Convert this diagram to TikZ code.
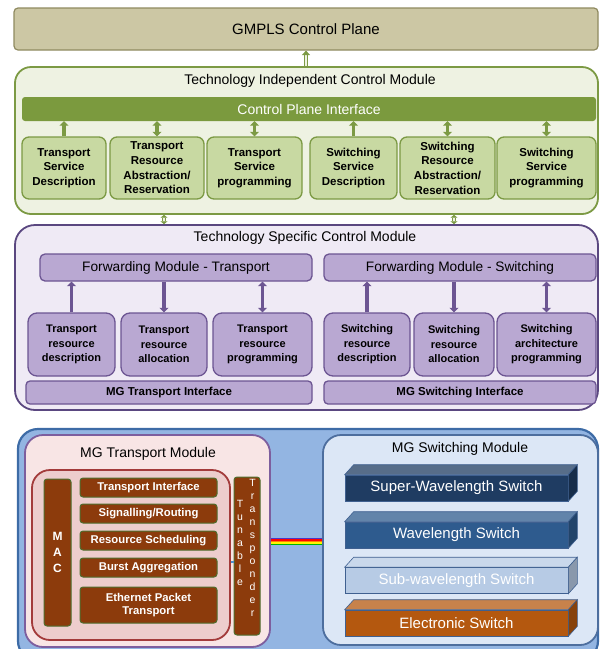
\documentclass[tikz,border=0pt]{standalone}
\usepackage{fontspec}
\setmainfont{Liberation Sans}
\usetikzlibrary{positioning, calc, arrows.meta}

\definecolor{gmplsfill}{HTML}{CCC7A4}
\definecolor{gmplsline}{HTML}{8F8A60}
\definecolor{indfill}{HTML}{EEF2E2}
\definecolor{indline}{HTML}{7C9A44}
\definecolor{cpifill}{HTML}{7B9A3E}
\definecolor{svcfill}{HTML}{C8D9A2}
\definecolor{spcfill}{HTML}{EFEAF5}
\definecolor{spcline}{HTML}{5A4780}
\definecolor{fwdfill}{HTML}{B9A8D2}
\definecolor{fwdline}{HTML}{6C5592}
\definecolor{mgfill}{HTML}{93B5E2}
\definecolor{mgline}{HTML}{3D6BA6}
\definecolor{tmfill}{HTML}{F8E5E5}
\definecolor{tmline}{HTML}{7D5E9E}
\definecolor{macfill}{HTML}{EDCDCD}
\definecolor{macline}{HTML}{A33B3B}
\definecolor{brick}{HTML}{8C3B0C}
\definecolor{brickline}{HTML}{4F6E2E}
\definecolor{smfill}{HTML}{DCE7F6}
\definecolor{smline}{HTML}{4D6E9E}
\definecolor{swsc}{HTML}{1F3C62}
\definecolor{wlsc}{HTML}{2E5B8E}
\definecolor{subc}{HTML}{B7CBE5}
\definecolor{elsc}{HTML}{B4580F}
\definecolor{slabline}{HTML}{3F6090}
\definecolor{rbv}{HTML}{4B35C8}
\definecolor{fibre}{HTML}{4A90D0}

\tikzset{
	plane/.style={draw=gmplsline, fill=gmplsfill, line width=1.2pt, rounded corners=4pt, font=\fontsize{15}{17}\selectfont},
	modbox/.style={rounded corners=16pt, line width=1.8pt},
	ttl/.style={inner sep=0pt, font=\fontsize{14}{16}\selectfont},
	cpibar/.style={fill=cpifill, rounded corners=3pt, text=white, inner sep=0pt, font=\fontsize{14}{16}\selectfont},
	svc/.style={draw=indline, fill=svcfill, line width=1.3pt, rounded corners=7pt, align=center, inner sep=0pt, minimum height=62pt, font=\bfseries\fontsize{11.5}{14.7}\selectfont},
	fwd/.style={draw=fwdline, fill=fwdfill, line width=1.3pt, rounded corners=5pt, inner sep=0pt, minimum width=272pt, minimum height=27pt, font=\fontsize{13.7}{16}\selectfont},
	resbox/.style={draw=fwdline, fill=fwdfill, line width=1.3pt, rounded corners=9pt, align=center, inner sep=0pt, minimum height=63pt, font=\bfseries\fontsize{11}{14.5}\selectfont},
	mgi/.style={draw=fwdline, fill=fwdfill, line width=1.3pt, rounded corners=4pt, inner sep=0pt, minimum height=23pt, font=\bfseries\fontsize{11.5}{14}\selectfont},
	% brown blocks of the transport module
	brk/.style={draw=brickline, fill=brick, line width=1pt, rounded corners=3pt, text=white, align=center, inner sep=0pt, font=\bfseries\fontsize{11.3}{13}\selectfont},
	vtxt/.style={text=white, align=center, inner sep=0pt, font=\fontsize{10.5}{13}\selectfont},
	slab/.style={draw=slabline, line width=0.6pt, inner sep=0pt, minimum width=223pt, minimum height=26pt, text=white, font=\fontsize{15}{17}\selectfont},
	bigtip/.tip={Triangle[length=4.5pt, width=9pt]},
	linktip/.tip={Triangle[length=4.5pt, width=8pt]},
	stubtip/.tip={Triangle[length=2.8pt, width=7pt]},
	link/.style={draw=indline, double=indfill, double distance=2pt, line width=1.1pt}
}

\begin{document}
\begin{tikzpicture}[x=1pt, y=-1pt]
	\useasboundingbox (0,0) rectangle (600,649);

	\node (gmpls) [plane, minimum width=584pt, minimum height=42pt] at (306,29) {GMPLS Control Plane};

	% technology independent part
	\node (indep) [modbox, draw=indline, fill=indfill, minimum width=583pt, minimum height=147pt] at (306.5,140.5) {};
	\node (indepT) [ttl] at (310,81) {Technology Independent Control Module};
	\node (cpi) [cpibar, minimum width=574pt, minimum height=24pt] at (309,109) {Control Plane Interface};

	\node (tsd) [svc, minimum width=84pt] at (64,168) {Transport\\Service\\Description};
	\node (tra) [svc, minimum width=94pt] at (157,168) {Transport\\Resource\\Abstraction/\\Reservation};
	\node (tsp) [svc, minimum width=95pt] at (254.5,168) {Transport\\Service\\programming};
	\node (ssd) [svc, minimum width=87pt] at (353.5,168) {Switching\\Service\\Description};
	\node (sra) [svc, minimum width=95pt] at (447.5,168) {Switching\\Resource\\Abstraction/\\Reservation};
	\node (ssp) [svc, minimum width=99pt] at (546.5,168) {Switching\\Service\\programming};

	\begin{scope}[draw=indline, line width=3.5pt]
		\foreach \b in {tsd, ssd}
			\draw[-bigtip] (\b.north) -- (\b.north |- cpi.south);
		\foreach \b in {tra, tsp, sra, ssp}
			\draw[bigtip-bigtip] (\b.north) -- (\b.north |- cpi.south);
	\end{scope}

	% technology specific part
	\node (spec) [modbox, rounded corners=20pt, draw=spcline, fill=spcfill, minimum width=583pt, minimum height=185pt] at (306.5,317.5) {};
	\node (specT) [ttl] at (305,238) {Technology Specific Control Module};
	\node (fwdT) [fwd] at (176,267.5) {Forwarding Module - Transport};
	\node (fwdS) [fwd] at (460,267.5) {Forwarding Module - Switching};

	\node (trd) [resbox, minimum width=87pt] at (71.5,344.5) {Transport\\resource\\description};
	\node (tral) [resbox, minimum width=86pt] at (164,344.5) {Transport\\resource\\allocation};
	\node (trp) [resbox, minimum width=99pt] at (262.5,344.5) {Transport\\resource\\programming};
	\node (swd) [resbox, minimum width=86pt] at (367,344.5) {Switching\\resource\\description};
	\node (swal) [resbox, minimum width=80pt] at (454,344.5) {Switching\\resource\\allocation};
	\node (swap) [resbox, minimum width=99pt] at (546.5,344.5) {Switching\\architecture\\programming};

	\node (mgti) [mgi, minimum width=286pt] at (169,392.5) {MG Transport Interface};
	\node (mgsi) [mgi, minimum width=272pt] at (460,392.5) {MG Switching Interface};

	\begin{scope}[draw=fwdline, line width=3.5pt]
		\foreach \b/\f in {trd/fwdT, swd/fwdS}
			\draw[-bigtip] (\b.north) -- (\b.north |- \f.south);
		\foreach \b/\f in {tral/fwdT, swal/fwdS}
			\draw[-bigtip] (\b.north |- \f.south) -- (\b.north);
		\foreach \b/\f in {trp/fwdT, swap/fwdS}
			\draw[bigtip-bigtip] (\b.north) -- (\b.north |- \f.south);
	\end{scope}

	\draw[link, -linktip] (indep.north -| gmpls) -- (gmpls.south);
	\draw[link, stubtip-stubtip] (indep.south -| tral) -- (spec.north -| tral);
	\draw[link, stubtip-stubtip] (indep.south -| swal) -- (spec.north -| swal);

	% multi-granular node
	\node (mgn) [modbox, rounded corners=20pt, draw=mgline, line width=2.2pt, fill=mgfill, minimum width=580pt, minimum height=232pt] at (308,545) {};

	\node (tm) [modbox, rounded corners=18pt, draw=tmline, fill=tmfill, minimum width=245pt, minimum height=212pt] at (147.5,541) {};
	\node (tmT) [ttl] at (148,454) {MG Transport Module};
	\node (macbox) [modbox, rounded corners=18pt, draw=macline, fill=macfill, minimum width=198pt, minimum height=170pt] at (131,555) {};
	\node (mac) [brk, minimum width=27pt, minimum height=147pt, font=\bfseries\fontsize{12}{16}\selectfont] at (57.5,552.5) {M\\A\\C};
	\node (ti) [brk, minimum width=137pt, minimum height=19pt] at (148.5,487.5) {Transport Interface};
	\node (sig) [brk, minimum width=137pt, minimum height=19pt] at (148.5,513.5) {Signalling/Routing};
	\node (rsch) [brk, minimum width=137pt, minimum height=19pt] at (148.5,540.5) {Resource Scheduling};
	\node (bagg) [brk, minimum width=137pt, minimum height=19pt] at (148.5,567.5) {Burst Aggregation};
	\node (eth) [brk, minimum width=137pt, minimum height=36pt] at (148.5,605) {Ethernet Packet\\Transport};
	\node (trx) [brk, minimum width=26pt, minimum height=158pt] at (247,556) {};
	\node (tun) [vtxt] at (240,543) {T\\u\\n\\a\\b\\l\\e};
	\node (tpd) [vtxt] at (252.5,548) {T\\r\\a\\n\\s\\p\\o\\n\\d\\e\\r};

	\node (sm) [modbox, rounded corners=18pt, draw=smline, fill=smfill, minimum width=275pt, minimum height=210pt] at (460.5,540) {};
	\node (smT) [ttl] at (460,449) {MG Switching Module};

	\foreach \nm/\yc/\clr/\txt in {sws/488/swsc/Super-Wavelength Switch, wls/535/wlsc/Wavelength Switch, subs/580.5/subc/Sub-wavelength Switch, els/623/elsc/Electronic Switch} {
		\node (\nm) [slab, fill=\clr] at (456.5,\yc) {\txt};
		\filldraw[draw=slabline, line width=0.6pt, fill=\clr!75!white] (\nm.north west) -- ++(9,-10) -- ($(\nm.north east)+(9,-10)$) -- (\nm.north east) -- cycle;
		\filldraw[draw=slabline, line width=0.6pt, fill=\clr!75!black] (\nm.north east) -- ++(9,-10) -- ($(\nm.south east)+(9,-10)$) -- (\nm.south east) -- cycle;
	}

	\draw[fibre, line width=1.5pt] (macbox.east |- 0,562) -- (trx.west |- 0,562);
	\foreach \c [count=\i, evaluate=\i as \yy using 537+1.5*\i] in {rbv, red, orange, yellow, green!70!black}
		\draw[\c, line width=1.5pt] (tm.east |- 0,\yy) -- (sm.west |- 0,\yy);
\end{tikzpicture}
\end{document}
